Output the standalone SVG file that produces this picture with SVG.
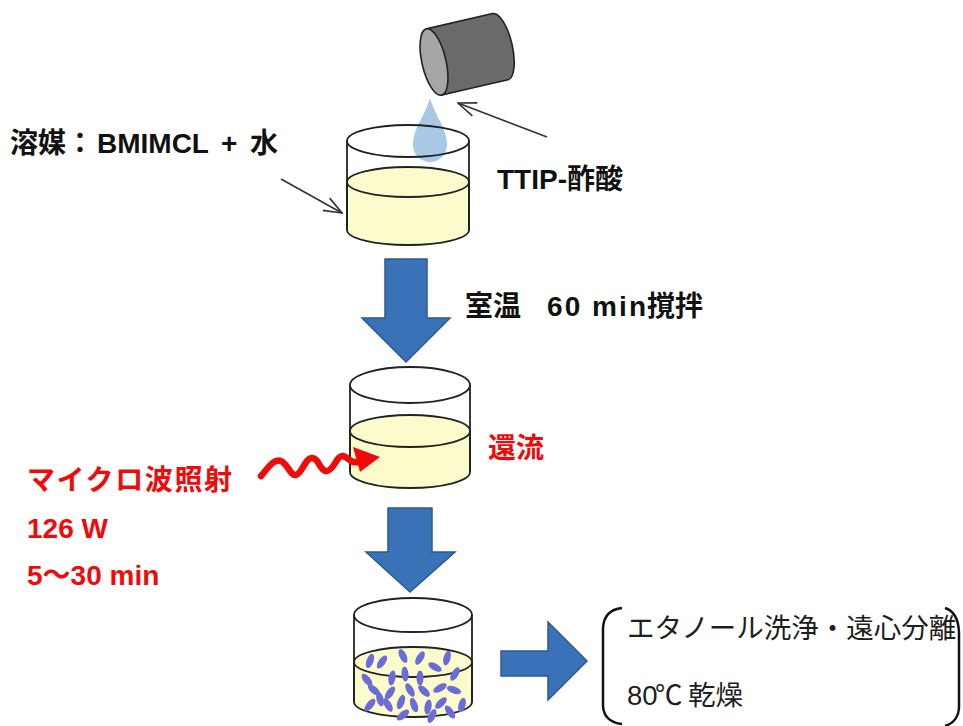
<svg xmlns="http://www.w3.org/2000/svg" width="963" height="726" viewBox="0 0 963 726">
  <style>
    .lbl { font-family: "Liberation Sans", "Noto Sans CJK JP", sans-serif; font-size: 28px; font-weight: bold; fill: #111; }
    .red { fill: #f00a0a; }
    .note { font-family: "Liberation Sans", "Noto Sans CJK JP", sans-serif; font-size: 27.5px; fill: #1e1e1e; }
    .cjk { font-family: "Noto Sans CJK JP", sans-serif; }
    .glass { fill: none; stroke: #222; stroke-width: 1.8; }
    .liquid { fill: #fcfbcc; stroke: #222; stroke-width: 1.8; }
    .wall { stroke: #222; stroke-width: 1.8; }
    .flow { fill: #3a72b8; stroke: #2a5a90; stroke-width: 1.5; stroke-linejoin: miter; }
    .pointer { fill: none; stroke: #333; stroke-width: 1.6; }
    .particle { fill: #6c6cd8; }
  </style>
  <defs>
    <marker id="openHead" markerUnits="userSpaceOnUse" viewBox="0 0 20 16" refX="19" refY="8" markerWidth="20" markerHeight="16" orient="auto">
      <path d="M1,1 L19,8 L1,15" fill="none" stroke="#333" stroke-width="1.6"/>
    </marker>
  </defs>
  <rect width="963" height="726" fill="#fff"/>

  <!-- precursor bottle, tipped over -->
  <g id="bottle" transform="translate(434,62) rotate(-13)">
    <path d="M0,-34 L68,-34 A12,34 0 0 1 68,34 L0,34 Z" fill="#6a6a6a" stroke="#222" stroke-width="1.6"/>
    <ellipse cx="0" cy="0" rx="12" ry="34" fill="#a6a6a6" stroke="#222" stroke-width="1.6"/>
  </g>

  <!-- falling drop -->
  <g id="drop">
    <path d="M430,98 C436,118 447,128 447,145 A17,17 0 0 1 413,145 C413,128 424,118 430,98 Z" fill="#a8c8e6"/>
  </g>

  <!-- beaker 1: solvent -->
  <g id="beaker1">
    <path class="liquid" d="M347,182 L347,230 A61,15 0 0 0 469,230 L469,182 Z"/>
    <ellipse class="liquid" cx="408" cy="182" rx="61" ry="15"/>
    <ellipse class="glass" cx="408" cy="141" rx="61" ry="16"/>
    <line class="wall" x1="347" y1="141" x2="347" y2="230"/>
    <line class="wall" x1="469" y1="141" x2="469" y2="230"/>
  </g>

  <!-- beaker 2: reflux -->
  <g id="beaker2">
    <path class="liquid" d="M350,431 L350,472 A60,16 0 0 0 470,472 L470,431 Z"/>
    <ellipse class="liquid" cx="410" cy="431" rx="60" ry="16"/>
    <ellipse class="glass" cx="410" cy="385" rx="60" ry="18"/>
    <line class="wall" x1="350" y1="385" x2="350" y2="472"/>
    <line class="wall" x1="470" y1="385" x2="470" y2="472"/>
  </g>

  <!-- beaker 3: particles formed -->
  <g id="beaker3">
    <path class="liquid" d="M354,662 L354,702 A59,15 0 0 0 472,702 L472,662 Z"/>
    <ellipse class="liquid" cx="413" cy="662" rx="59" ry="15"/>
    <ellipse class="glass" cx="413" cy="615" rx="59" ry="17"/>
    <line class="wall" x1="354" y1="615" x2="354" y2="702"/>
    <line class="wall" x1="472" y1="615" x2="472" y2="702"/>
    <g class="particles">
      <ellipse class="particle" cx="370" cy="661" rx="3.5" ry="7.5" transform="rotate(20 370 661)"/>
      <ellipse class="particle" cx="382" cy="662" rx="3.5" ry="7.5" transform="rotate(35 382 662)"/>
      <ellipse class="particle" cx="403" cy="656" rx="3.5" ry="7.5" transform="rotate(-25 403 656)"/>
      <ellipse class="particle" cx="420" cy="658" rx="3.5" ry="7.5" transform="rotate(30 420 658)"/>
      <ellipse class="particle" cx="435" cy="667" rx="3.5" ry="7.5" transform="rotate(-60 435 667)"/>
      <ellipse class="particle" cx="447" cy="658" rx="3.5" ry="7.5" transform="rotate(15 447 658)"/>
      <ellipse class="particle" cx="367" cy="680" rx="3.5" ry="7.5" transform="rotate(-40 367 680)"/>
      <ellipse class="particle" cx="392" cy="678" rx="3.5" ry="7.5" transform="rotate(10 392 678)"/>
      <ellipse class="particle" cx="405" cy="674" rx="3.5" ry="7.5" transform="rotate(-5 405 674)"/>
      <ellipse class="particle" cx="420" cy="678" rx="3.5" ry="7.5" transform="rotate(0 420 678)"/>
      <ellipse class="particle" cx="455" cy="674" rx="3.5" ry="7.5" transform="rotate(30 455 674)"/>
      <ellipse class="particle" cx="374" cy="690" rx="3.5" ry="7.5" transform="rotate(-50 374 690)"/>
      <ellipse class="particle" cx="390" cy="693" rx="3.5" ry="7.5" transform="rotate(35 390 693)"/>
      <ellipse class="particle" cx="410" cy="690" rx="3.5" ry="7.5" transform="rotate(-30 410 690)"/>
      <ellipse class="particle" cx="424" cy="691" rx="3.5" ry="7.5" transform="rotate(-45 424 691)"/>
      <ellipse class="particle" cx="440" cy="688" rx="3.5" ry="7.5" transform="rotate(60 440 688)"/>
      <ellipse class="particle" cx="454" cy="690" rx="3.5" ry="7.5" transform="rotate(-70 454 690)"/>
      <ellipse class="particle" cx="370" cy="705" rx="3.5" ry="7.5" transform="rotate(40 370 705)"/>
      <ellipse class="particle" cx="388" cy="705" rx="3.5" ry="7.5" transform="rotate(-30 388 705)"/>
      <ellipse class="particle" cx="401" cy="702" rx="3.5" ry="7.5" transform="rotate(20 401 702)"/>
      <ellipse class="particle" cx="414" cy="705" rx="3.5" ry="7.5" transform="rotate(-20 414 705)"/>
      <ellipse class="particle" cx="428" cy="707" rx="3.5" ry="7.5" transform="rotate(10 428 707)"/>
      <ellipse class="particle" cx="441" cy="703" rx="3.5" ry="7.5" transform="rotate(45 441 703)"/>
      <ellipse class="particle" cx="462" cy="705" rx="3.5" ry="7.5" transform="rotate(15 462 705)"/>
      <ellipse class="particle" cx="403" cy="715" rx="3.5" ry="7.5" transform="rotate(50 403 715)"/>
      <ellipse class="particle" cx="380" cy="699" rx="3.5" ry="7.5" transform="rotate(-15 380 699)"/>
      <ellipse class="particle" cx="450" cy="712" rx="3.5" ry="7.5" transform="rotate(-35 450 712)"/>
      <ellipse class="particle" cx="432" cy="716" rx="3.5" ry="7.5" transform="rotate(25 432 716)"/>
    </g>
  </g>

  <!-- result bracket -->
  <g id="result">
    <path d="M622,608 Q604,610 603,628 L603,706 Q604,722 622,724" fill="none" stroke="#111" stroke-width="2.5"/>
    <path d="M945,608 Q958,612 959,632 L959,708 Q958,722 945,726" fill="none" stroke="#111" stroke-width="2.5"/>
    <text class="note" x="627" y="638">エタノール洗浄・遠心分離</text>
    <text class="note" y="705"><tspan x="627">80</tspan><tspan class="cjk" x="655">℃</tspan><tspan x="688">乾燥</tspan></text>
  </g>

  <!-- connectors -->
  <g id="connectors">
    <line class="pointer" x1="547" y1="137" x2="458" y2="103" marker-end="url(#openHead)"/>
    <line class="pointer" x1="281" y1="179" x2="342" y2="213" marker-end="url(#openHead)"/>
    <polygon class="flow" points="385,259 427,259 427,318 450,318 406,362 362,318 385,318"/>
    <polygon class="flow" points="388,508 432,508 432,552 455,552 410,592 366,552 388,552"/>
    <polygon class="flow" points="501,651 548,651 548,622 587,661 548,700 548,676 501,676"/>
    <!-- microwave -->
    <path d="M261,476 C268,468 274,458 281,461 C288,464 290,476 296,475 C302,474 305,458 312,458 C319,458 320,472 327,471 C334,470 337,455 343,456 C349,457 350,464 358,462" fill="none" stroke="#f00a0a" stroke-width="6.5" stroke-linecap="round" stroke-linejoin="round"/>
    <polygon points="353,447 380,457 360,472" fill="#f00a0a"/>
  </g>

  <!-- labels -->
  <g id="labels">
    <text class="lbl" y="153"><tspan x="10">溶媒</tspan><tspan x="66">：</tspan><tspan x="97">BMIMCL</tspan><tspan x="221">+</tspan><tspan x="250">水</tspan></text>
    <text class="lbl" x="497" y="189">TTIP-酢酸</text>
    <text class="lbl" y="316"><tspan x="465">室温</tspan><tspan x="547" textLength="99" lengthAdjust="spacing">60 min</tspan><tspan x="647">撹拌</tspan></text>
    <text class="lbl red" x="488" y="458">還流</text>
    <text class="lbl red" x="27" y="490" textLength="205" lengthAdjust="spacing">マイクロ波照射</text>
    <text class="lbl red" x="27" y="538">126 W</text>
    <text class="lbl red" x="27" y="585">5〜30 min</text>
  </g>
</svg>
